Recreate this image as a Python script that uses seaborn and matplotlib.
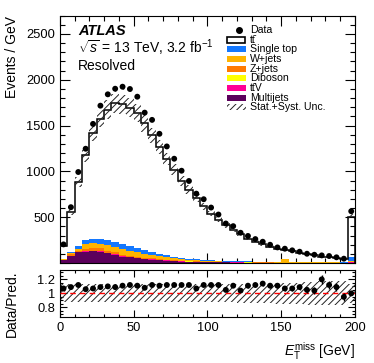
import numpy as np
import pandas as pd
import matplotlib
matplotlib.use('Agg')
import matplotlib.pyplot as plt
import seaborn as sns
from matplotlib.patches import Rectangle
from matplotlib.ticker import MultipleLocator, FuncFormatter, FixedLocator

# E_T^miss bins, 5 GeV wide, last bin holds the overflow
edges = np.arange(0, 205, 5)
centers = edges[:-1] + 2.5

data_vals = [203, 609, 993, 1247, 1518, 1717, 1841, 1902, 1924, 1899,
             1815, 1641, 1562, 1410, 1272, 1138, 1007, 895, 757, 696,
             605, 529, 431, 402, 330, 295, 261, 232, 199, 170,
             156, 138, 123, 101, 90, 83, 76, 62, 47, 565]
mc_total = [190, 559, 887, 1176, 1419, 1575, 1674, 1745, 1733, 1696,
            1635, 1525, 1395, 1270, 1136, 1016, 899, 799, 707, 621,
            540, 472, 412, 362, 317, 266, 233, 204, 179, 153,
            146, 129, 113, 96, 87, 69, 68, 57, 49, 505]
ratio_vals = [1.07, 1.09, 1.12, 1.06, 1.07, 1.09, 1.10, 1.09, 1.11, 1.12,
              1.11, 1.08, 1.12, 1.11, 1.12, 1.12, 1.12, 1.12, 1.07, 1.12,
              1.12, 1.12, 1.05, 1.11, 1.04, 1.11, 1.12, 1.14, 1.11, 1.11,
              1.07, 1.07, 1.09, 1.05, 1.04, 1.20, 1.12, 1.09, 0.95, 1.00]

# backgrounds (events / GeV)
single_top = [4, 19, 35, 47, 50, 54, 55, 58, 55, 54, 50, 38, 35, 26, 24, 19, 17, 14, 13, 10,
              8, 7, 7, 7, 6, 6, 5, 5, 4, 4, 4, 3, 3, 3, 3, 2, 2, 2, 2, 39]
wjets = [3, 6, 15, 45, 50, 48, 57, 54, 56, 53, 48, 42, 38, 33, 27, 22, 18, 15, 12, 10,
         9, 7, 6, 5, 5, 4, 3, 3, 3, 2, 35, 2, 2, 2, 2, 2, 2, 2, 1, 8]
zjets = [6, 20, 15, 28, 30, 28, 24, 20, 16, 13, 10, 8, 7, 6, 5, 4, 3, 3, 2, 2,
         2, 2, 1, 1, 1, 1, 1, 1, 1, 1, 1, 1, 1, 1, 1, 1, 1, 1, 1, 3]
diboson = [1, 1, 2, 2, 3, 3, 3, 3, 3, 3, 3, 3, 2, 2, 2, 2, 2, 2, 2, 1,
           1, 1, 1, 1, 1, 1, 1, 1, 1, 1, 1, 1, 1, 1, 1, 1, 1, 1, 1, 3]
ttv = [1, 2, 3, 3, 3, 3, 3, 3, 3, 3, 3, 3, 3, 3, 3, 2, 2, 2, 2, 2,
       2, 2, 2, 2, 2, 1, 1, 1, 1, 1, 1, 1, 1, 1, 1, 1, 1, 1, 1, 4]
multijets = [28, 75, 115, 125, 130, 125, 105, 90, 70, 62, 52, 43, 38, 30, 25, 20, 16, 13, 11, 9,
             8, 7, 6, 5, 4, 4, 3, 3, 3, 2, 2, 2, 2, 1, 1, 1, 1, 1, 1, 3]

# relative uncertainties (main band / ratio band)
main_unc = [0.06, 0.06, 0.06, 0.06, 0.06, 0.06, 0.06, 0.06, 0.06, 0.06,
            0.06, 0.06, 0.06, 0.06, 0.06, 0.06, 0.06, 0.06, 0.06, 0.06,
            0.06, 0.06, 0.06, 0.06, 0.06, 0.07, 0.07, 0.07, 0.07, 0.07,
            0.07, 0.07, 0.07, 0.08, 0.08, 0.08, 0.08, 0.08, 0.08, 0.06]
ratio_unc = [0.13, 0.13, 0.13, 0.13, 0.13, 0.13, 0.13, 0.13, 0.13, 0.13,
             0.13, 0.13, 0.13, 0.13, 0.13, 0.13, 0.13, 0.13, 0.13, 0.13,
             0.13, 0.13, 0.13, 0.13, 0.14, 0.14, 0.14, 0.14, 0.14, 0.15,
             0.15, 0.15, 0.15, 0.16, 0.16, 0.17, 0.17, 0.17, 0.17, 0.14]

procs = ['Single top', 'W+jets', 'Z+jets', 'Diboson', 'ttV', 'Multijets']
colors = {'Single top': '#1478ff', 'W+jets': '#ffb400', 'Z+jets': '#ff7a00',
          'Diboson': '#ffff00', 'ttV': '#ff0096', 'Multijets': '#5c005c'}

bkg = pd.DataFrame({'x': centers, 'Single top': single_top, 'W+jets': wjets,
                    'Z+jets': zjets, 'Diboson': diboson, 'ttV': ttv,
                    'Multijets': multijets})
bkg_long = bkg.melt(id_vars='x', var_name='process', value_name='events')

data_vals = np.array(data_vals, dtype=float)
mc_total = np.array(mc_total, dtype=float)
ratio_vals = np.array(ratio_vals)
data_err = np.sqrt(data_vals * 5) / 5
ratio_err = data_err / mc_total

sns.set_theme(style='ticks')
plt.rcParams['font.family'] = ['Liberation Sans', 'DejaVu Sans']
plt.rcParams['mathtext.fontset'] = 'custom'
plt.rcParams['mathtext.rm'] = 'Liberation Sans'
plt.rcParams['mathtext.it'] = 'Liberation Sans:italic'
plt.rcParams['mathtext.bf'] = 'Liberation Sans:bold'
plt.rcParams['hatch.linewidth'] = 0.7
plt.rcParams['text.color'] = 'black'
plt.rcParams['axes.labelcolor'] = 'black'
plt.rcParams['xtick.color'] = 'black'
plt.rcParams['ytick.color'] = 'black'

fig = plt.figure(figsize=(3.74, 3.63), dpi=100)
ax = fig.add_axes([0.160, 0.2755, 0.789, 0.6815])
rax = fig.add_axes([0.160, 0.1275, 0.789, 0.1285])

# stacked backgrounds
sns.histplot(data=bkg_long, x='x', weights='events', hue='process', hue_order=procs,
             multiple='stack', bins=list(edges), element='step', fill=True, alpha=1,
             linewidth=0, palette=colors, legend=False, ax=ax)

# ttbar on top: outline of the total prediction
ax.stairs(mc_total, edges, baseline=0, color='black', linewidth=1.1, zorder=3)

# uncertainty band
lo = np.append(mc_total * (1 - np.array(main_unc)), mc_total[-1] * (1 - main_unc[-1]))
hi = np.append(mc_total * (1 + np.array(main_unc)), mc_total[-1] * (1 + main_unc[-1]))
ax.fill_between(edges, lo, hi, step='post', facecolor='none', edgecolor='#222222',
                hatch='/////', linewidth=0, zorder=4)

# data
ax.errorbar(centers, data_vals, yerr=data_err, fmt='none', ecolor='black', elinewidth=1, zorder=5)
sns.scatterplot(x=centers, y=data_vals, color='black', s=18, edgecolor='none', zorder=6, ax=ax)

ax.set_xlim(0, 200)
ax.set_ylim(0, 2700)
ax.yaxis.set_major_locator(MultipleLocator(500))
ax.yaxis.set_minor_locator(MultipleLocator(100))
ax.yaxis.set_major_formatter(FuncFormatter(lambda v, p: '' if v == 0 else f'{v:.0f}'))
ax.set_xlabel('')
ax.set_ylabel('Events / GeV', fontsize=10, loc='top')
ax.yaxis.set_label_coords(-0.14, 1.0)
ax.tick_params(labelbottom=False)

# ratio panel
r_lo = np.append(1 - np.array(ratio_unc), 1 - ratio_unc[-1])
r_hi = np.append(1 + np.array(ratio_unc), 1 + ratio_unc[-1])
rax.fill_between(edges, r_lo, r_hi, step='post', facecolor='none', edgecolor='#222222',
                 hatch='/////', linewidth=0, zorder=2)
rax.axhline(1, color='red', linestyle=(0, (4, 3)), linewidth=1, zorder=3)
rax.errorbar(centers, ratio_vals, yerr=ratio_err, fmt='none', ecolor='black', elinewidth=1, zorder=4)
sns.scatterplot(x=centers, y=ratio_vals, color='black', s=18, edgecolor='none', zorder=5, ax=rax)
rax.set_xlim(0, 200)
rax.set_ylim(0.667, 1.333)
rax.yaxis.set_major_locator(FixedLocator([0.8, 1.0, 1.2]))
rax.yaxis.set_minor_locator(MultipleLocator(0.05))
rax.yaxis.set_major_formatter(FuncFormatter(lambda v, p: f'{v:g}'))
rax.set_ylabel('Data/Pred.', fontsize=10, loc='top')
rax.yaxis.set_label_coords(-0.14, 1.0)
rax.set_xlabel(r'$E_{\mathrm{T}}^{\mathrm{miss}}$ [GeV]', fontsize=10, loc='right')
rax.xaxis.set_label_coords(1.0, -0.5)

for a in (ax, rax):
    a.xaxis.set_major_locator(MultipleLocator(50))
    a.xaxis.set_minor_locator(MultipleLocator(10))
    a.tick_params(which='both', direction='in', top=True, right=True, labelsize=9.3, width=0.8)
    a.tick_params(which='major', length=7)
    a.tick_params(which='minor', length=3.5)
    for s in a.spines.values():
        s.set_linewidth(0.8)
        s.set_color('black')
rax.tick_params(which='major', length=5)
rax.tick_params(which='minor', length=2.5)

# labels
ax.text(0.062, 0.937, 'ATLAS', transform=ax.transAxes, fontsize=10.5,
        fontweight='bold', fontstyle='italic', va='center')
ax.text(0.062, 0.870, r'$\sqrt{s}$ = 13 TeV, 3.2 fb$^{-1}$', transform=ax.transAxes,
        fontsize=10, va='center')
ax.text(0.062, 0.797, 'Resolved', transform=ax.transAxes, fontsize=10, va='center')

# legend, drawn row by row
leg_labels = ['Data', 'tt\u0304', 'Single top', 'W+jets', 'Z+jets', 'Diboson',
              'tt\u0304V', 'Multijets', 'Stat.+Syst. Unc.']
leg_font = {'family': ['Liberation Sans Narrow', 'Liberation Sans', 'DejaVu Sans'], 'size': 7.6}
box_x, box_w, box_h = 0.565, 0.065, 0.024
row_y0, row_dy = 0.9415, 0.0391
for i, lab in enumerate(leg_labels):
    yc = row_y0 - i * row_dy
    if lab == 'Data':
        ax.plot([0.606], [yc], marker='o', color='black', markersize=4,
                transform=ax.transAxes, clip_on=False)
    elif i == 1:
        ax.add_patch(Rectangle((box_x + 0.003, yc - box_h / 2), box_w - 0.006, box_h,
                               facecolor='white', edgecolor='black', linewidth=1.2,
                               transform=ax.transAxes, zorder=7))
    elif lab == 'Stat.+Syst. Unc.':
        ax.add_patch(Rectangle((box_x, yc - box_h / 2), box_w, box_h, facecolor='none',
                               edgecolor='#222222', hatch='/////', linewidth=0,
                               transform=ax.transAxes, zorder=7))
    else:
        proc = procs[i - 2]
        ax.add_patch(Rectangle((box_x, yc - box_h / 2), box_w, box_h,
                               facecolor=colors[proc], edgecolor='none',
                               transform=ax.transAxes, zorder=7))
    ax.text(0.644, yc, lab, transform=ax.transAxes, va='center', ha='left', fontdict=leg_font)

fig.savefig('out.png', dpi=100)
